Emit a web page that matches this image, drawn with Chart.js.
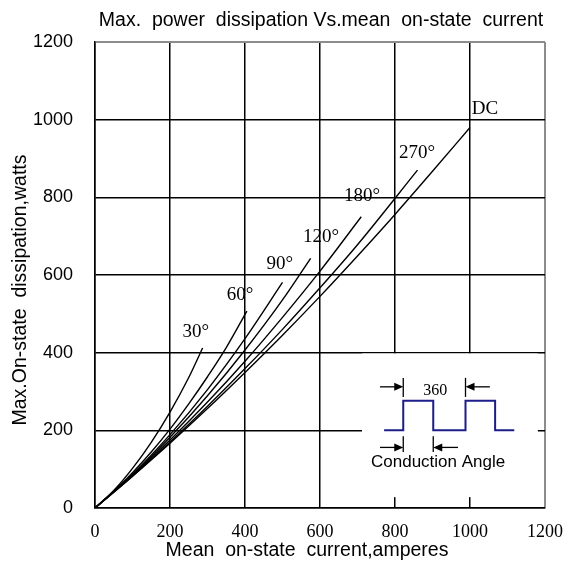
<!DOCTYPE html>
<html>
<head>
<meta charset="utf-8">
<script src="https://cdn.jsdelivr.net/npm/chart.js@4.4.0/dist/chart.umd.min.js"></script>
<style>
  html, body { margin: 0; padding: 0; background: #fff; }
  #wrap { width: 567px; height: 569px; }
</style>
</head>
<body>
<div id="wrap"><canvas id="powerChart"></canvas></div>
<script>
// Mean on-state current (A) / max power dissipation (W), one pair per conduction angle
const current30 = [0, 50, 100, 150, 200, 250, 287];
const power30 = [0, 45, 102, 169, 247, 336, 412];

const current60 = [0, 50, 100, 150, 200, 250, 300, 350, 405];
const power60 = [0, 43, 91, 144, 203, 268, 338, 413, 507];

const current90 = [0, 100, 200, 300, 400, 500];
const power90 = [0, 87, 189, 305, 436, 581];

const current120 = [0, 100, 200, 300, 400, 500, 575];
const power120 = [0, 85, 182, 289, 407, 536, 643];

const current180 = [0, 100, 200, 300, 400, 500, 600, 710];
const power180 = [0, 84, 175, 273, 378, 491, 610, 750];

const current270 = [0, 100, 200, 300, 400, 500, 600, 700, 860];
const power270 = [0, 82, 170, 262, 359, 460, 567, 678, 870];

const currentDC = [0, 100, 200, 300, 400, 500, 600, 700, 800, 900, 1000];
const powerDC = [0, 82, 167, 256, 349, 445, 545, 649, 756, 867, 980];

const curveNames = ['30°', '60°', '90°', '120°', '180°', '270°', 'DC'];
const curveCurrents = [current30, current60, current90, current120, current180, current270, currentDC];
const curvePowers = [power30, power60, power90, power120, power180, power270, powerDC];

// where each curve label sits (data units)
const labelSpots = [[269, 453], [387, 548], [493, 628], [603, 698], [712, 803], [859, 914], [1040, 1027]];

const serif = '"Liberation Serif", "DejaVu Serif", serif';
const sans = '"Liberation Sans", Arial, sans-serif';

function arrow(ctx, x1, x2, yy) {
    const dir = Math.sign(x2 - x1);
    ctx.beginPath();
    ctx.moveTo(x1, yy);
    ctx.lineTo(x2 - dir * 6, yy);
    ctx.stroke();
    ctx.beginPath();
    ctx.moveTo(x2, yy);
    ctx.lineTo(x2 - dir * 9, yy - 4);
    ctx.lineTo(x2 - dir * 9, yy + 4);
    ctx.closePath();
    ctx.fill();
}

const overlay = {
    id: 'overlay',
    afterDraw(chart) {
        const { ctx, scales: { x, y } } = chart;
        const px = v => x.getPixelForValue(v);
        const py = v => y.getPixelForValue(v);
        ctx.save();

        // curve labels
        ctx.fillStyle = '#000';
        ctx.font = '19px ' + serif;
        ctx.textAlign = 'center';
        ctx.textBaseline = 'middle';
        curveNames.forEach((name, i) => {
            ctx.fillText(name, px(labelSpots[i][0]), py(labelSpots[i][1]));
        });

        // waveform inset
        ctx.fillStyle = '#fff';
        ctx.fillRect(px(712), py(398), px(1181) - px(712), py(28) - py(398));

        ctx.strokeStyle = '#1c1c8a';
        ctx.lineWidth = 2;
        ctx.beginPath();
        ctx.moveTo(px(771), py(200));
        ctx.lineTo(px(822), py(200));
        ctx.lineTo(px(822), py(276));
        ctx.lineTo(px(902), py(276));
        ctx.lineTo(px(902), py(200));
        ctx.lineTo(px(988), py(200));
        ctx.lineTo(px(988), py(276));
        ctx.lineTo(px(1067), py(276));
        ctx.lineTo(px(1067), py(200));
        ctx.lineTo(px(1118), py(200));
        ctx.stroke();

        ctx.strokeStyle = '#000';
        ctx.fillStyle = '#000';
        ctx.lineWidth = 1.3;
        [[822, 286, 335], [988, 286, 335], [822, 144, 185], [902, 144, 185]].forEach(m => {
            ctx.beginPath();
            ctx.moveTo(px(m[0]), py(m[1]));
            ctx.lineTo(px(m[0]), py(m[2]));
            ctx.stroke();
        });
        arrow(ctx, px(760), px(822), py(312));
        arrow(ctx, px(1053), px(988), py(312));
        arrow(ctx, px(760), px(822), py(156));
        arrow(ctx, px(968), px(902), py(156));

        ctx.font = '16px ' + serif;
        ctx.fillText('360', px(907), py(302));
        ctx.font = '17px ' + sans;
        ctx.fillText('Conduction Angle', px(915), py(118));

        // titles
        ctx.font = '19.5px ' + sans;
        ctx.fillText('Max.  power  dissipation Vs.mean  on-state  current', 321, 21);
        ctx.fillText('Mean  on-state  current,amperes', 307, 551);
        ctx.translate(21, 290);
        ctx.rotate(-Math.PI / 2);
        ctx.fillText('Max.On-state  dissipation,watts', 0, 0);
        ctx.restore();
    }
};

const gridColor = c => (c.tick && c.tick.value === 1200 ? '#8c8c8c' : '#000');
const gridWidth = c => (c.tick && c.tick.value === 1200 ? 2 : 1.5);

const ctxPower = document.getElementById('powerChart').getContext('2d');
const powerChart = new Chart(ctxPower, {
    type: 'scatter',
    data: {
        datasets: curveNames.map((name, i) => ({
            label: name,
            data: curveCurrents[i].map((c, j) => ({ x: c, y: curvePowers[i][j] })),
            showLine: true,
            borderColor: '#000',
            borderWidth: 1.4,
            pointRadius: 0,
            fill: false,
            cubicInterpolationMode: 'monotone'
        }))
    },
    options: {
        responsive: true,
        maintainAspectRatio: false,
        animation: false,
        layout: { padding: { top: 42, right: 22, left: 0, bottom: 0 } },
        plugins: {
            legend: { display: false },
            tooltip: { enabled: false }
        },
        scales: {
            x: {
                type: 'linear',
                min: 0,
                max: 1200,
                afterFit: s => {
                    s.height = 61;
                    s.paddingLeft = 0;
                    s.paddingRight = 0;
                },
                ticks: {
                    stepSize: 200,
                    color: '#000',
                    padding: 13,
                    font: { family: serif, size: 18 },
                    callback: v => String(v)
                },
                grid: { color: gridColor, lineWidth: gridWidth, drawTicks: false },
                border: { color: '#000', width: 1.5 }
            },
            y: {
                type: 'linear',
                min: 0,
                max: 1200,
                afterFit: s => {
                    s.width = 95;
                    s.paddingTop = 0;
                    s.paddingBottom = 0;
                },
                ticks: {
                    stepSize: 200,
                    color: '#000',
                    padding: 22,
                    font: { family: sans, size: 18 },
                    callback: v => String(v)
                },
                grid: { color: gridColor, lineWidth: gridWidth, drawTicks: false },
                border: { color: '#000', width: 1.5 }
            }
        }
    },
    plugins: [overlay]
});
</script>
</body>
</html>
